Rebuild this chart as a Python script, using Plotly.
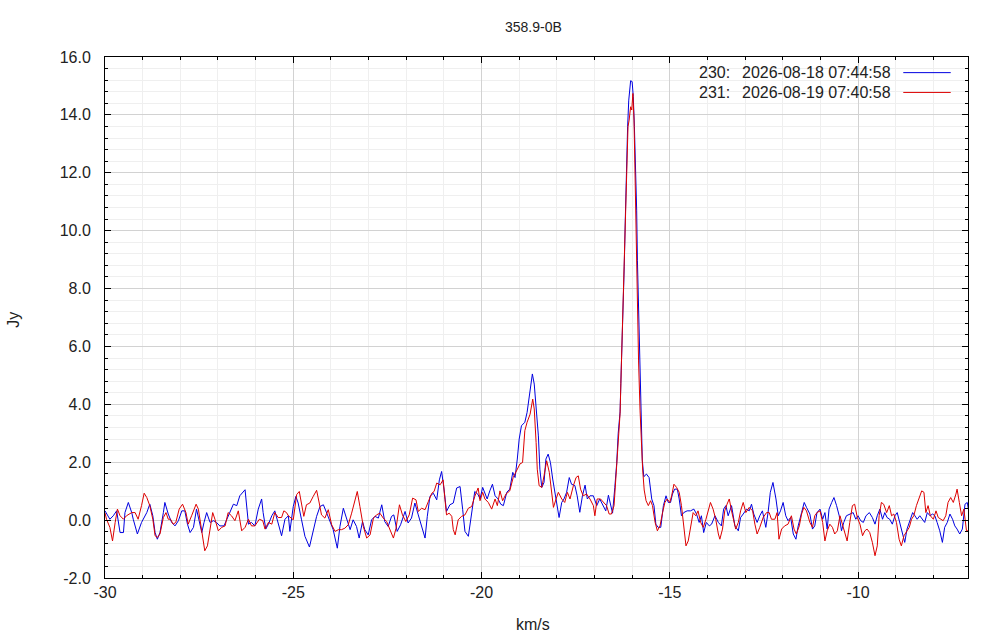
import plotly.graph_objects as go

# Espectro 358.9-0B, dos scans (velocidad km/s, flujo Jy)
TITLE = "358.9-0B"
SCAN_LABELS = ["230:", "231:"]
SCAN_DATES = ["2026-08-18 07:44:58", "2026-08-19 07:40:58"]
SCAN_COLORS = ["#0000e0", "#dd0000"]

SCAN_230 = [
    (-30.00, 0.32), (-29.87, 0.03), (-29.78, 0.15), (-29.69, 0.32), (-29.60, -0.43), (-29.51, -0.43),
    (-29.47, 0.26), (-29.38, 0.61), (-29.29, 0.26), (-29.25, 0.03), (-29.14, -0.48), (-29.03, -0.08),
    (-28.89, 0.26), (-28.81, 0.55), (-28.73, 0.15), (-28.67, -0.43), (-28.61, -0.66), (-28.54, -0.43),
    (-28.45, 0.26), (-28.41, 0.61), (-28.32, 0.21), (-28.23, -0.08), (-28.14, -0.20), (-28.05, -0.02),
    (-27.96, 0.32), (-27.88, 0.32), (-27.81, -0.14), (-27.74, -0.43), (-27.65, -0.25), (-27.57, 0.38),
    (-27.50, -0.02), (-27.43, -0.43), (-27.37, -0.08), (-27.30, 0.26), (-27.21, -0.08), (-27.12, -0.02),
    (-27.04, -0.08), (-26.95, -0.20), (-26.84, -0.20), (-26.73, 0.15), (-26.59, 0.55), (-26.50, 0.50),
    (-26.42, 0.84), (-26.28, 1.05), (-26.24, 0.61), (-26.19, -0.14), (-26.11, -0.08), (-26.02, -0.20),
    (-25.93, 0.38), (-25.84, 0.73), (-25.80, 0.26), (-25.73, -0.31), (-25.66, -0.14), (-25.57, 0.15),
    (-25.49, 0.32), (-25.40, -0.08), (-25.31, -0.54), (-25.22, 0.03), (-25.13, 0.15),
    (-25.09, -0.39), (-25.00, 0.47), (-24.93, 0.82), (-24.87, 0.59), (-24.78, 0.01), (-24.69, -0.56),
    (-24.57, -0.93), (-24.49, -0.51), (-24.38, 0.13), (-24.29, 0.47), (-24.20, 0.53), (-24.11, 0.24),
    (-24.03, -0.05), (-23.94, -0.33), (-23.83, -0.97), (-23.76, -0.22), (-23.67, 0.41), (-23.58, 0.07),
    (-23.49, -0.33), (-23.41, 0.01), (-23.32, -0.22), (-23.25, -0.62), (-23.16, -0.05), (-23.10, -0.33),
    (-23.01, -0.51), (-22.92, 0.01), (-22.83, 0.13), (-22.74, 0.07), (-22.65, 0.53), (-22.57, -0.05),
    (-22.48, -0.22), (-22.39, 0.13), (-22.33, 0.18), (-22.24, -0.39), (-22.15, -0.16), (-22.03, 0.30),
    (-21.95, -0.10), (-21.86, 0.07), (-21.77, 0.59), (-21.68, 0.18), (-21.59, -0.22), (-21.50, -0.62),
    (-21.44, 0.13), (-21.37, 0.82), (-21.28, 0.93), (-21.19, 0.70), (-21.12, 1.39), (-21.06, 1.68),
    (-21.00, 1.11), (-20.93, 0.30), (-20.84, 0.53), (-20.75, 0.59), (-20.66, 1.11), (-20.57, 1.16),
    (-20.50, 0.36), (-20.44, -0.39), (-20.35, -0.56), (-20.26, 0.18), (-20.18, 0.99), (-20.09, 0.88),
    (-20.04, 0.73), (-19.97, 1.13), (-19.91, 0.90), (-19.85, 0.73), (-19.78, 1.01), (-19.71, 1.24),
    (-19.64, 0.84), (-19.56, 0.73), (-19.49, 0.55), (-19.42, 0.50), (-19.33, 0.96), (-19.25, 1.07),
    (-19.17, 1.65), (-19.11, 1.47), (-19.05, 2.11), (-19.00, 2.80), (-18.94, 3.26), (-18.85, 3.38),
    (-18.79, 3.72), (-18.71, 4.53), (-18.65, 5.05), (-18.60, 4.70), (-18.54, 3.66), (-18.49, 2.91),
    (-18.45, 1.76), (-18.40, 1.13), (-18.34, 1.30), (-18.29, 2.11), (-18.23, 2.28), (-18.17, 1.99),
    (-18.11, 1.42), (-18.05, 0.96), (-17.99, 0.38), (-17.94, 0.09), (-17.87, 0.61), (-17.81, 0.73),
    (-17.74, 0.96), (-17.67, 1.47), (-17.61, 1.24), (-17.52, 1.19), (-17.46, 0.84), (-17.39, 0.27),
    (-17.32, 0.84), (-17.25, 1.21), (-17.19, 0.73), (-17.12, 0.84), (-17.03, 0.84), (-16.94, 0.50),
    (-16.86, 0.73), (-16.77, 0.50), (-16.70, 0.32), (-16.63, 0.86), (-16.57, 0.50), (-16.52, 0.24),
    (-16.46, 1.13), (-16.41, 1.96), (-16.37, 3.00), (-16.32, 3.74), (-16.30, 4.72), (-16.27, 5.93),
    (-16.24, 7.08), (-16.21, 8.75), (-16.18, 10.48), (-16.15, 12.44), (-16.12, 13.59), (-16.09, 14.51),
    (-16.04, 15.18), (-16.00, 15.15), (-15.97, 14.63), (-15.94, 13.59), (-15.91, 12.44), (-15.88, 10.71),
    (-15.86, 8.98), (-15.83, 7.26), (-15.79, 4.72), (-15.77, 3.57), (-15.73, 2.07), (-15.69, 1.50),
    (-15.62, 1.59), (-15.55, 1.47), (-15.48, 0.73), (-15.42, 0.50), (-15.37, -0.14), (-15.31, -0.25),
    (-15.24, -0.25), (-15.17, 0.50), (-15.10, 0.84), (-15.04, 0.61), (-14.98, 0.61),
    (-14.93, 0.90), (-14.87, 1.07), (-14.80, 1.07), (-14.75, 0.73), (-14.69, 0.15), (-14.63, 0.26),
    (-14.54, 0.32), (-14.45, 0.32), (-14.36, 0.38), (-14.29, 0.21), (-14.22, -0.08), (-14.16, 0.15),
    (-14.10, -0.43), (-14.03, -0.08), (-13.95, -0.20), (-13.89, -0.14), (-13.80, 0.15), (-13.71, -0.08),
    (-13.63, -0.20), (-13.57, 0.38), (-13.51, 0.50), (-13.45, 0.15), (-13.36, 0.50), (-13.27, -0.20),
    (-13.18, -0.37), (-13.12, 0.09), (-13.05, 0.21), (-12.96, 0.38), (-12.89, 0.32), (-12.83, 0.55),
    (-12.77, 0.21), (-12.68, -0.08), (-12.61, 0.15), (-12.54, 0.32), (-12.45, -0.25), (-12.39, 0.26),
    (-12.33, 0.96), (-12.26, 1.30), (-12.18, 0.73), (-12.12, 0.15), (-12.06, 0.32), (-11.99, 0.61),
    (-11.92, 0.15), (-11.86, -0.02), (-11.79, 0.09), (-11.72, -0.48), (-11.65, -0.66), (-11.59, -0.20),
    (-11.50, 0.26), (-11.43, 0.61), (-11.37, 0.44),
    (-11.28, 0.21), (-11.21, -0.31), (-11.15, -0.20), (-11.09, 0.26), (-11.01, 0.38), (-10.94, 0.03),
    (-10.88, 0.26), (-10.82, -0.31), (-10.77, 0.38), (-10.70, 0.61), (-10.64, 0.78), (-10.57, 0.50),
    (-10.50, 0.15), (-10.44, -0.37), (-10.38, -0.08), (-10.31, 0.15), (-10.22, 0.21), (-10.13, 0.26),
    (-10.06, 0.03), (-10.00, 0.15), (-9.93, -0.02), (-9.86, -0.08), (-9.79, 0.15), (-9.70, 0.26),
    (-9.62, 0.09), (-9.55, -0.14), (-9.49, 0.15), (-9.42, 0.38), (-9.35, 0.03), (-9.29, 0.26),
    (-9.23, 0.09), (-9.16, 0.03), (-9.09, -0.14), (-9.02, 0.15), (-8.96, 0.26), (-8.89, -0.08),
    (-8.82, -0.43), (-8.76, -0.77), (-8.70, -0.31), (-8.62, 0.03), (-8.55, 0.26), (-8.49, 0.15),
    (-8.43, 0.03), (-8.36, 0.15), (-8.29, 0.03), (-8.23, -0.08), (-8.16, 0.26), (-8.09, 0.15),
    (-8.02, 0.21), (-7.96, 0.15), (-7.90, -0.08), (-7.83, -0.37), (-7.76, -0.77), (-7.70, -0.25),
    (-7.63, -0.08), (-7.56, 0.21), (-7.49, 0.03), (-7.43, -0.20), (-7.37, -0.31), (-7.30, -0.48),
    (-7.23, -0.31), (-7.16, 0.55), (-7.10, 0.61), (-7.07, 0.38),
]

SCAN_231 = [
    (-30.00, 0.25), (-29.96, 0.03), (-29.87, -0.25), (-29.80, -0.72), (-29.73, -0.08), (-29.67, 0.38),
    (-29.60, 0.15), (-29.51, 0.03), (-29.43, 0.15), (-29.29, 0.26), (-29.20, 0.26), (-29.12, 0.03),
    (-29.03, 0.50), (-28.96, 0.93), (-28.89, 0.78), (-28.81, 0.50), (-28.73, 0.03), (-28.67, -0.54),
    (-28.61, -0.60), (-28.54, -0.48), (-28.45, 0.09), (-28.38, 0.26), (-28.32, 0.03), (-28.26, 0.03),
    (-28.19, -0.14), (-28.12, -0.08), (-28.03, 0.38), (-27.94, 0.55), (-27.85, 0.26), (-27.79, -0.14),
    (-27.70, 0.15), (-27.58, 0.55), (-27.52, 0.38), (-27.45, -0.20), (-27.39, -0.77), (-27.35, -1.06),
    (-27.28, -0.89), (-27.21, -0.25), (-27.14, 0.26), (-27.08, 0.03), (-26.99, -0.37), (-26.90, -0.25),
    (-26.81, -0.20), (-26.73, 0.26), (-26.64, 0.15), (-26.55, -0.02), (-26.46, 0.32), (-26.37, -0.37),
    (-26.28, -0.25), (-26.19, 0.03), (-26.11, -0.20), (-26.02, -0.20), (-25.90, 0.03), (-25.81, -0.02),
    (-25.75, -0.31), (-25.66, -0.08), (-25.57, -0.14), (-25.49, 0.26), (-25.40, 0.09), (-25.31, 0.09),
    (-25.25, 0.32), (-25.18, 0.26), (-25.13, 0.15),
    (-25.00, 0.01), (-24.91, 0.88), (-24.84, 0.99), (-24.78, 0.59), (-24.72, 0.13), (-24.65, 0.53),
    (-24.56, 0.59), (-24.47, 0.82), (-24.38, 1.03), (-24.31, 0.59), (-24.25, 0.18), (-24.16, 0.07),
    (-24.07, 0.36), (-23.98, -0.16), (-23.89, -0.39), (-23.80, -0.33), (-23.72, -0.33), (-23.63, -0.28),
    (-23.54, -0.16), (-23.45, 0.24), (-23.36, 0.70), (-23.30, 0.99), (-23.23, 0.47), (-23.14, -0.22),
    (-23.05, -0.62), (-22.96, -0.51), (-22.87, 0.07), (-22.79, 0.18), (-22.70, 0.24), (-22.61, 0.07),
    (-22.52, -0.05), (-22.43, -0.33), (-22.34, -0.62), (-22.27, -0.28), (-22.18, 0.53), (-22.10, 0.18),
    (-22.01, -0.05), (-21.92, 0.18), (-21.83, 0.76), (-21.74, 0.70), (-21.68, 0.30), (-21.59, 0.41),
    (-21.50, 0.36), (-21.41, 0.65), (-21.32, 0.93), (-21.26, 0.99), (-21.19, 1.28), (-21.10, 1.22),
    (-21.02, 1.39), (-20.97, 0.70), (-20.93, 0.18), (-20.86, 0.24), (-20.79, 0.13), (-20.75, -0.33),
    (-20.70, -0.51), (-20.62, 0.01), (-20.53, 0.13), (-20.44, 0.18), (-20.35, 0.41), (-20.26, 0.47),
    (-20.18, 0.82), (-20.09, 1.11),
    (-20.04, 0.67), (-19.97, 0.96), (-19.91, 0.73), (-19.82, 0.61), (-19.73, 0.38), (-19.64, 0.73),
    (-19.58, 0.50), (-19.51, 1.01), (-19.44, 0.67), (-19.35, 0.90), (-19.25, 1.01), (-19.16, 1.47),
    (-19.07, 1.70), (-18.98, 1.94), (-18.91, 1.99), (-18.85, 3.09), (-18.79, 3.38), (-18.71, 3.66),
    (-18.64, 4.18), (-18.60, 3.84), (-18.55, 2.68), (-18.52, 1.76), (-18.47, 1.19), (-18.40, 1.13),
    (-18.34, 1.53), (-18.27, 2.05), (-18.20, 1.65), (-18.14, 0.96), (-18.09, 0.44), (-18.02, 0.73),
    (-17.96, 0.96), (-17.87, 0.73), (-17.79, 0.61), (-17.72, 0.96), (-17.65, 0.73), (-17.56, 1.19),
    (-17.49, 1.47), (-17.43, 1.53), (-17.37, 1.07), (-17.30, 0.84), (-17.21, 0.90), (-17.12, 0.73),
    (-17.03, 0.50), (-16.99, 0.15), (-16.93, 0.73), (-16.84, 0.73), (-16.75, 0.61), (-16.68, 0.50),
    (-16.61, 0.21), (-16.55, 0.21), (-16.48, 0.50),
    (-16.46, 0.92), (-16.41, 1.73), (-16.37, 2.65), (-16.32, 3.69), (-16.29, 5.18), (-16.25, 7.03),
    (-16.22, 8.64), (-16.18, 10.71), (-16.15, 12.55), (-16.11, 13.59), (-16.08, 13.82), (-16.04, 14.28),
    (-16.01, 14.17), (-15.98, 14.74), (-15.95, 13.82), (-15.93, 12.21), (-15.90, 9.91), (-15.86, 7.83),
    (-15.83, 5.53), (-15.79, 3.80), (-15.76, 2.65), (-15.72, 1.73), (-15.68, 1.04),
    (-15.63, 0.67), (-15.57, 0.50), (-15.51, 0.67), (-15.46, 0.50), (-15.39, -0.08), (-15.33, -0.37),
    (-15.26, -0.20), (-15.19, 0.27), (-15.13, 0.61), (-15.07, 0.73),
    (-15.00, 0.61), (-14.95, 0.84), (-14.89, 1.24), (-14.82, 1.13), (-14.75, 0.96), (-14.69, 0.50),
    (-14.63, -0.31), (-14.57, -0.89), (-14.51, -0.72), (-14.45, -0.20), (-14.38, 0.26), (-14.31, 0.15),
    (-14.25, 0.32), (-14.18, -0.08), (-14.11, -0.25), (-14.04, 0.03), (-13.98, 0.32), (-13.92, 0.61),
    (-13.85, 0.38), (-13.78, 0.03), (-13.71, -0.48), (-13.67, -0.66), (-13.60, -0.31), (-13.54, 0.32),
    (-13.48, 0.55), (-13.42, 0.73), (-13.36, 0.32), (-13.30, 0.03), (-13.25, -0.31), (-13.18, -0.08),
    (-13.12, 0.32), (-13.05, 0.61), (-12.98, 0.26), (-12.89, 0.44), (-12.80, 0.32), (-12.74, -0.14),
    (-12.68, -0.48), (-12.61, -0.25), (-12.52, 0.09), (-12.43, 0.26), (-12.36, 0.26), (-12.30, 0.03),
    (-12.21, 0.03), (-12.15, 0.26), (-12.10, -0.66), (-12.03, -0.31), (-11.95, -0.20), (-11.86, -0.14),
    (-11.77, 0.15), (-11.70, -0.31), (-11.64, -0.48), (-11.56, -0.20), (-11.50, 0.21), (-11.44, 0.44),
    (-11.37, 0.32),
    (-11.28, -0.08), (-11.21, -0.25), (-11.15, 0.15), (-11.09, 0.26), (-11.01, 0.32), (-10.94, -0.08),
    (-10.88, -0.72), (-10.82, -0.37), (-10.75, -0.14), (-10.68, -0.25), (-10.62, -0.48), (-10.55, -0.37),
    (-10.48, 0.15), (-10.41, -0.14), (-10.35, -0.43), (-10.29, -0.72), (-10.22, -0.08), (-10.15, 0.50),
    (-10.09, 0.55), (-10.02, 0.09), (-9.95, -0.14), (-9.88, -0.54), (-9.82, -0.37), (-9.76, -0.31),
    (-9.69, -0.43), (-9.62, -0.77), (-9.55, -1.23), (-9.49, -0.89), (-9.44, 0.15), (-9.38, 0.61),
    (-9.32, 0.55), (-9.24, 0.26), (-9.17, 0.50), (-9.11, 0.15), (-9.05, 0.21), (-8.98, -0.08),
    (-8.91, -0.66), (-8.85, -0.89), (-8.78, -0.54), (-8.71, -0.37), (-8.64, -0.25), (-8.58, 0.03),
    (-8.52, 0.15), (-8.45, 0.50), (-8.38, 0.78), (-8.31, 1.01), (-8.25, 0.96), (-8.20, 0.26),
    (-8.14, 0.50), (-8.08, 0.15), (-8.00, 0.03), (-7.93, 0.32), (-7.87, 0.09), (-7.81, 0.03),
    (-7.74, -0.02), (-7.67, 0.15), (-7.61, 0.61), (-7.54, 0.78), (-7.47, 0.61), (-7.40, 0.90),
    (-7.37, 1.07), (-7.31, 0.61), (-7.25, 0.15), (-7.19, 0.38), (-7.12, -0.37), (-7.07, -0.37),
]

X_TICKS = [-30, -25, -20, -15, -10]
X_TICK_LABELS = ["-30", "-25", "-20", "-15", "-10"]
Y_TICKS = [-2, 0, 2, 4, 6, 8, 10, 12, 14, 16]
Y_TICK_LABELS = ["-2.0", "0.0", "2.0", "4.0", "6.0", "8.0", "10.0", "12.0", "14.0", "16.0"]

FONT = "Liberation Sans, Arial, sans-serif"
TXT = "#222222"

fig = go.Figure()

for scan, color in zip([SCAN_230, SCAN_231], SCAN_COLORS):
    vel = [p[0] for p in scan]
    jy = [p[1] for p in scan]
    fig.add_trace(go.Scatter(
        x=vel, y=jy, mode="lines",
        line=dict(color=color, width=1),
        showlegend=False, hoverinfo="skip"
    ))

axis_common = dict(
    showline=True, linecolor="black", linewidth=1, mirror="allticks",
    ticks="inside", ticklen=6, tickcolor="black", tickwidth=1,
    showgrid=True, gridcolor="#d2d2d2", gridwidth=1, zeroline=False,
    tickfont=dict(family=FONT, size=16, color=TXT),
)

fig.update_xaxes(
    range=[-30, -7.08], tickmode="array", tickvals=X_TICKS, ticktext=X_TICK_LABELS,
    minor=dict(dtick=1, tick0=-30, ticks="inside", ticklen=3, tickcolor="black",
               showgrid=True, gridcolor="#efefef"),
    ticklabelstandoff=0,
    **axis_common
)
fig.update_yaxes(
    range=[-2, 16], tickmode="array", tickvals=Y_TICKS, ticktext=Y_TICK_LABELS,
    minor=dict(dtick=0.4, tick0=-2, ticks="inside", ticklen=3, tickcolor="black",
               showgrid=True, gridcolor="#efefef"),
    ticklabelstandoff=10,
    **axis_common
)

# caja de leyenda estilo gnuplot (muestra de línea a la derecha)
fig.add_shape(type="rect", xref="paper", yref="paper", x0=0.643, x1=1.0, y0=0.916, y1=1.0,
              fillcolor="white", line=dict(width=0), layer="between")

row_y = [0.970, 0.932]
for i in range(2):
    fig.add_annotation(x=0.686, y=row_y[i], xref="paper", yref="paper", text=SCAN_LABELS[i],
                       showarrow=False, xanchor="left", yanchor="middle",
                       font=dict(family=FONT, size=16, color=TXT))
    fig.add_annotation(x=0.736, y=row_y[i], xref="paper", yref="paper", text=SCAN_DATES[i],
                       showarrow=False, xanchor="left", yanchor="middle",
                       font=dict(family=FONT, size=16, color=TXT))
    fig.add_shape(type="line", xref="paper", yref="paper", x0=0.925, x1=0.980,
                  y0=row_y[i], y1=row_y[i], line=dict(color=SCAN_COLORS[i], width=1))

fig.add_annotation(x=0.497, y=1.058, xref="paper", yref="paper", text=TITLE, showarrow=False,
                   xanchor="center", yanchor="middle", font=dict(family=FONT, size=14, color=TXT))
fig.add_annotation(x=0.496, y=-0.090, xref="paper", yref="paper", text="km/s", showarrow=False,
                   xanchor="center", yanchor="middle", font=dict(family=FONT, size=16, color=TXT))
fig.add_annotation(x=-0.107, y=0.495, xref="paper", yref="paper", text="Jy", showarrow=False,
                   textangle=-90, xanchor="center", yanchor="middle",
                   font=dict(family=FONT, size=16, color=TXT))

fig.update_layout(
    width=1000, height=640,
    margin=dict(l=105, r=32, t=57, b=62),
    paper_bgcolor="white", plot_bgcolor="white",
    font=dict(family=FONT, color=TXT),
    showlegend=False,
)

# quitar el margen de 8 px del body para que la figura empiece en (0, 0)
fig.write_html("out.html", config={"displayModeBar": False},
               post_script="document.body.style.margin='0';")
